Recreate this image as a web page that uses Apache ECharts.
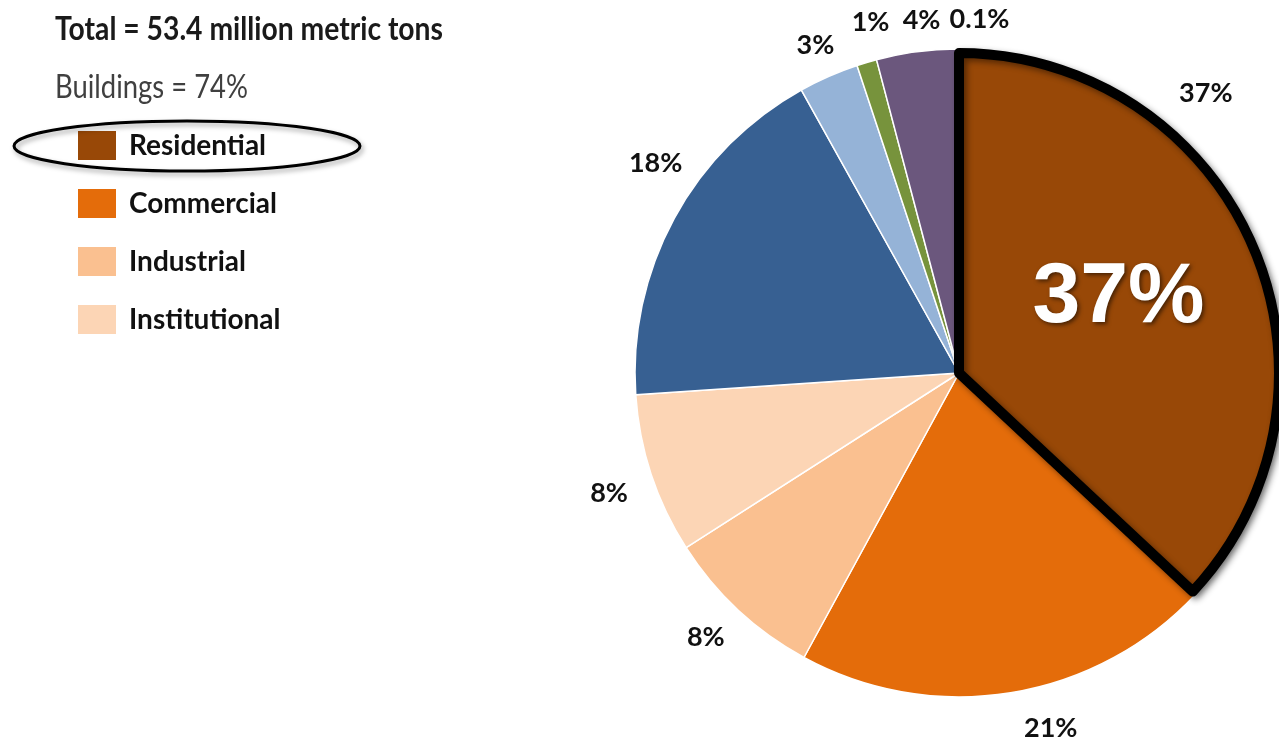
<!DOCTYPE html>
<html>
<head>
<meta charset="utf-8">
<title>Emissions by sector</title>
<script src="https://cdn.jsdelivr.net/npm/echarts@6/dist/echarts.min.js"></script>
<style>
  html, body { margin: 0; padding: 0; background: #fff; }
  #chart { width: 1279px; height: 741px; }
</style>
</head>
<body>
<div id="chart"></div>
<script>
// data
const categories = ['Residential', 'Commercial', 'Industrial', 'Institutional',
  'Transportation', 'Agriculture', 'Waste', 'Industry', 'Other']
const values = [37, 21, 8, 8, 18, 3, 1, 4, 0.1]
const legendNames = ['Residential', 'Commercial', 'Industrial', 'Institutional']
const totalText = 'Total = 53.4 million metric tons'
const buildingsText = 'Buildings = 74%'

// styling
const colors = ['#984807', '#e46c0a', '#fac090', '#fcd5b5', '#376092',
  '#95b3d7', '#77933c', '#6b577d', '#a6a6a6']
const uiFont = 'Lato, "DejaVu Sans Condensed", sans-serif'
const center = [959, 373]
const pieRadius = 324
// label placement tweaks: angle shift (deg) and radius shift (px) per slice
const labelAngleShift = [-25.1, -5.3, 0.8, -0.7, 6.2, 0.1, 2.4, 1.5, 3.5]
const labelRadiusShift = [9, 3, 2, 6, 5, -6, -2, -9, -10]
const labelRadius = 364

const chart = echarts.init(document.getElementById('chart'))

const total = values.reduce((a, b) => a + b, 0)

// squeeze a header line so it spans the same width as in the source
const fitScale = (text, font, width) => {
  const ctx = document.createElement('canvas').getContext('2d')
  ctx.font = font
  return width / ctx.measureText(text).width
}
const totalFont = 'bold 32px ' + uiFont
const buildingsFont = '32px ' + uiFont

// put each outside label around the middle of its slice
const placeLabel = (params) => {
  if (params.seriesIndex !== 0) return {}
  const i = params.dataIndex
  let before = 0
  for (let k = 0; k < i; k++) before += values[k]
  const mid = (before + values[i] / 2) / total * 360 + labelAngleShift[i]
  const r = labelRadius + labelRadiusShift[i]
  const rad = mid * Math.PI / 180
  return {
    x: center[0] + r * Math.sin(rad),
    y: center[1] - r * Math.cos(rad),
    align: 'center',
    verticalAlign: 'middle'
  }
}

const mainData = categories.map((name, i) => ({
  name,
  value: values[i],
  itemStyle: { color: colors[i] }
}))

// overlay: only the residential slice is visible, with thick outline
const highlightData = categories.map((name, i) => i === 0
  ? {
      name,
      value: values[i],
      itemStyle: {
        color: colors[0],
        borderColor: '#000',
        borderWidth: 10,
        borderJoin: 'round',
        shadowBlur: 6,
        shadowColor: 'rgba(0,0,0,0.45)',
        shadowOffsetX: 3,
        shadowOffsetY: 3
      },
      label: { show: true }
    }
  : {
      name,
      value: values[i],
      itemStyle: { color: 'transparent', borderWidth: 0 },
      label: { show: false }
    })

const option = {
  animation: false,
  graphic: [
    {
      type: 'text',
      x: 55,
      y: 14,
      scaleX: fitScale(totalText, totalFont, 388),
      style: { text: totalText, font: totalFont, fill: '#1a1a1a' }
    },
    {
      type: 'text',
      x: 55,
      y: 72,
      scaleX: fitScale(buildingsText, buildingsFont, 193),
      style: { text: buildingsText, font: buildingsFont, fill: '#404040' }
    },
    {
      type: 'ellipse',
      shape: { cx: 187, cy: 146, rx: 173, ry: 25 },
      style: {
        fill: 'none',
        stroke: '#000',
        lineWidth: 3,
        shadowBlur: 5,
        shadowColor: 'rgba(0,0,0,0.35)',
        shadowOffsetX: 2,
        shadowOffsetY: 3
      },
      z: 10
    }
  ],
  legend: {
    data: legendNames,
    orient: 'vertical',
    left: 78,
    top: 131,
    padding: 0,
    icon: 'rect',
    itemWidth: 38,
    itemHeight: 29,
    itemGap: 29,
    selectedMode: false,
    itemStyle: { borderWidth: 0 },
    textStyle: {
      fontFamily: uiFont,
      fontWeight: 'bold',
      fontSize: 28,
      color: '#111',
      lineHeight: 29,
      padding: [0, 0, 0, 8]
    }
  },
  series: [
    {
      name: 'Emissions',
      type: 'pie',
      center: center,
      radius: pieRadius,
      startAngle: 90,
      clockwise: true,
      avoidLabelOverlap: false,
      emphasis: { disabled: true },
      itemStyle: { borderColor: '#fff', borderWidth: 1.5 },
      label: {
        show: true,
        position: 'outside',
        formatter: '{c}%',
        fontFamily: uiFont,
        fontWeight: 'bold',
        fontSize: 27,
        color: '#111'
      },
      labelLine: { show: false },
      labelLayout: placeLabel,
      data: mainData
    },
    {
      name: 'Highlight',
      type: 'pie',
      center: center,
      radius: pieRadius - 4,
      startAngle: 90,
      clockwise: true,
      silent: true,
      avoidLabelOverlap: false,
      emphasis: { disabled: true },
      label: {
        position: 'inside',
        formatter: '{c}%',
        fontFamily: '"Liberation Sans", Arial, sans-serif',
        fontWeight: 'bold',
        fontSize: 86,
        color: '#fff',
        offset: [10, -10],
        textShadowColor: 'rgba(0,0,0,0.55)',
        textShadowBlur: 4,
        textShadowOffsetX: 2,
        textShadowOffsetY: 2
      },
      labelLine: { show: false },
      data: highlightData
    }
  ]
}

chart.setOption(option)
window.addEventListener('resize', () => chart.resize())
</script>
</body>
</html>
